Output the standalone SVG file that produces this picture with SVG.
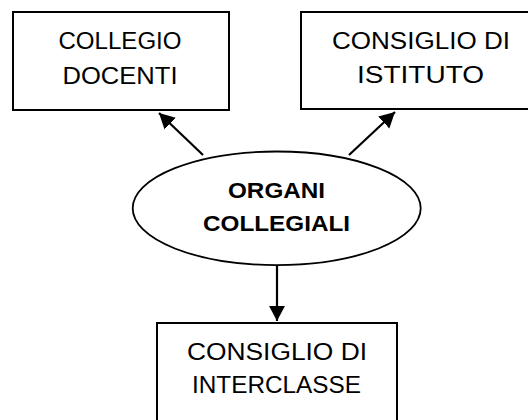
<svg xmlns="http://www.w3.org/2000/svg" width="528" height="420" viewBox="0 0 528 420">
<style>
.box{fill:#fff;stroke:#000;stroke-width:2}
.ell{fill:#fff;stroke:#000;stroke-width:1.8}
.t{font-family:"Liberation Sans","DejaVu Sans",sans-serif;font-size:23.5px;fill:#000;text-anchor:middle}
.b{font-family:"Liberation Sans","DejaVu Sans",sans-serif;font-size:22px;font-weight:bold;fill:#000;text-anchor:middle}
.c{stroke:#000;stroke-width:2.2;fill:none;marker-end:url(#ah)}
</style>
<defs>
<marker id="ah" markerWidth="8" markerHeight="8" refX="7" refY="4" orient="auto" markerUnits="strokeWidth">
<path d="M0,0.3 L7,4 L0,7.7 Z" fill="#000"/>
</marker>
</defs>
<rect width="528" height="420" fill="#fff"/>
<g id="connectors">
<line class="c" x1="203" y1="155" x2="159" y2="113"/>
<line class="c" x1="349" y1="155" x2="395" y2="112"/>
<line class="c" x1="277" y1="265" x2="277" y2="321"/>
</g>
<g id="collegio-docenti">
<rect class="box" x="13" y="12" width="216" height="98"/>
<text class="t" x="120" y="49" textLength="123" lengthAdjust="spacingAndGlyphs">COLLEGIO</text>
<text class="t" x="120" y="84" textLength="115" lengthAdjust="spacingAndGlyphs">DOCENTI</text>
</g>
<g id="consiglio-istituto">
<rect class="box" x="301" y="12" width="240" height="97"/>
<text class="t" x="421" y="49" textLength="178" lengthAdjust="spacingAndGlyphs">CONSIGLIO DI</text>
<text class="t" x="420.5" y="83" textLength="127" lengthAdjust="spacingAndGlyphs">ISTITUTO</text>
</g>
<g id="organi-collegiali">
<ellipse class="ell" cx="276.7" cy="208.3" rx="144" ry="56.8"/>
<text class="b" x="276.5" y="198" textLength="97" lengthAdjust="spacingAndGlyphs">ORGANI</text>
<text class="b" x="276.5" y="231" textLength="147" lengthAdjust="spacingAndGlyphs">COLLEGIALI</text>
</g>
<g id="consiglio-interclasse">
<rect class="box" x="157" y="323" width="240" height="110"/>
<text class="t" x="277" y="360" textLength="180" lengthAdjust="spacingAndGlyphs">CONSIGLIO DI</text>
<text class="t" x="276.5" y="393" textLength="169" lengthAdjust="spacingAndGlyphs">INTERCLASSE</text>
</g>
</svg>
